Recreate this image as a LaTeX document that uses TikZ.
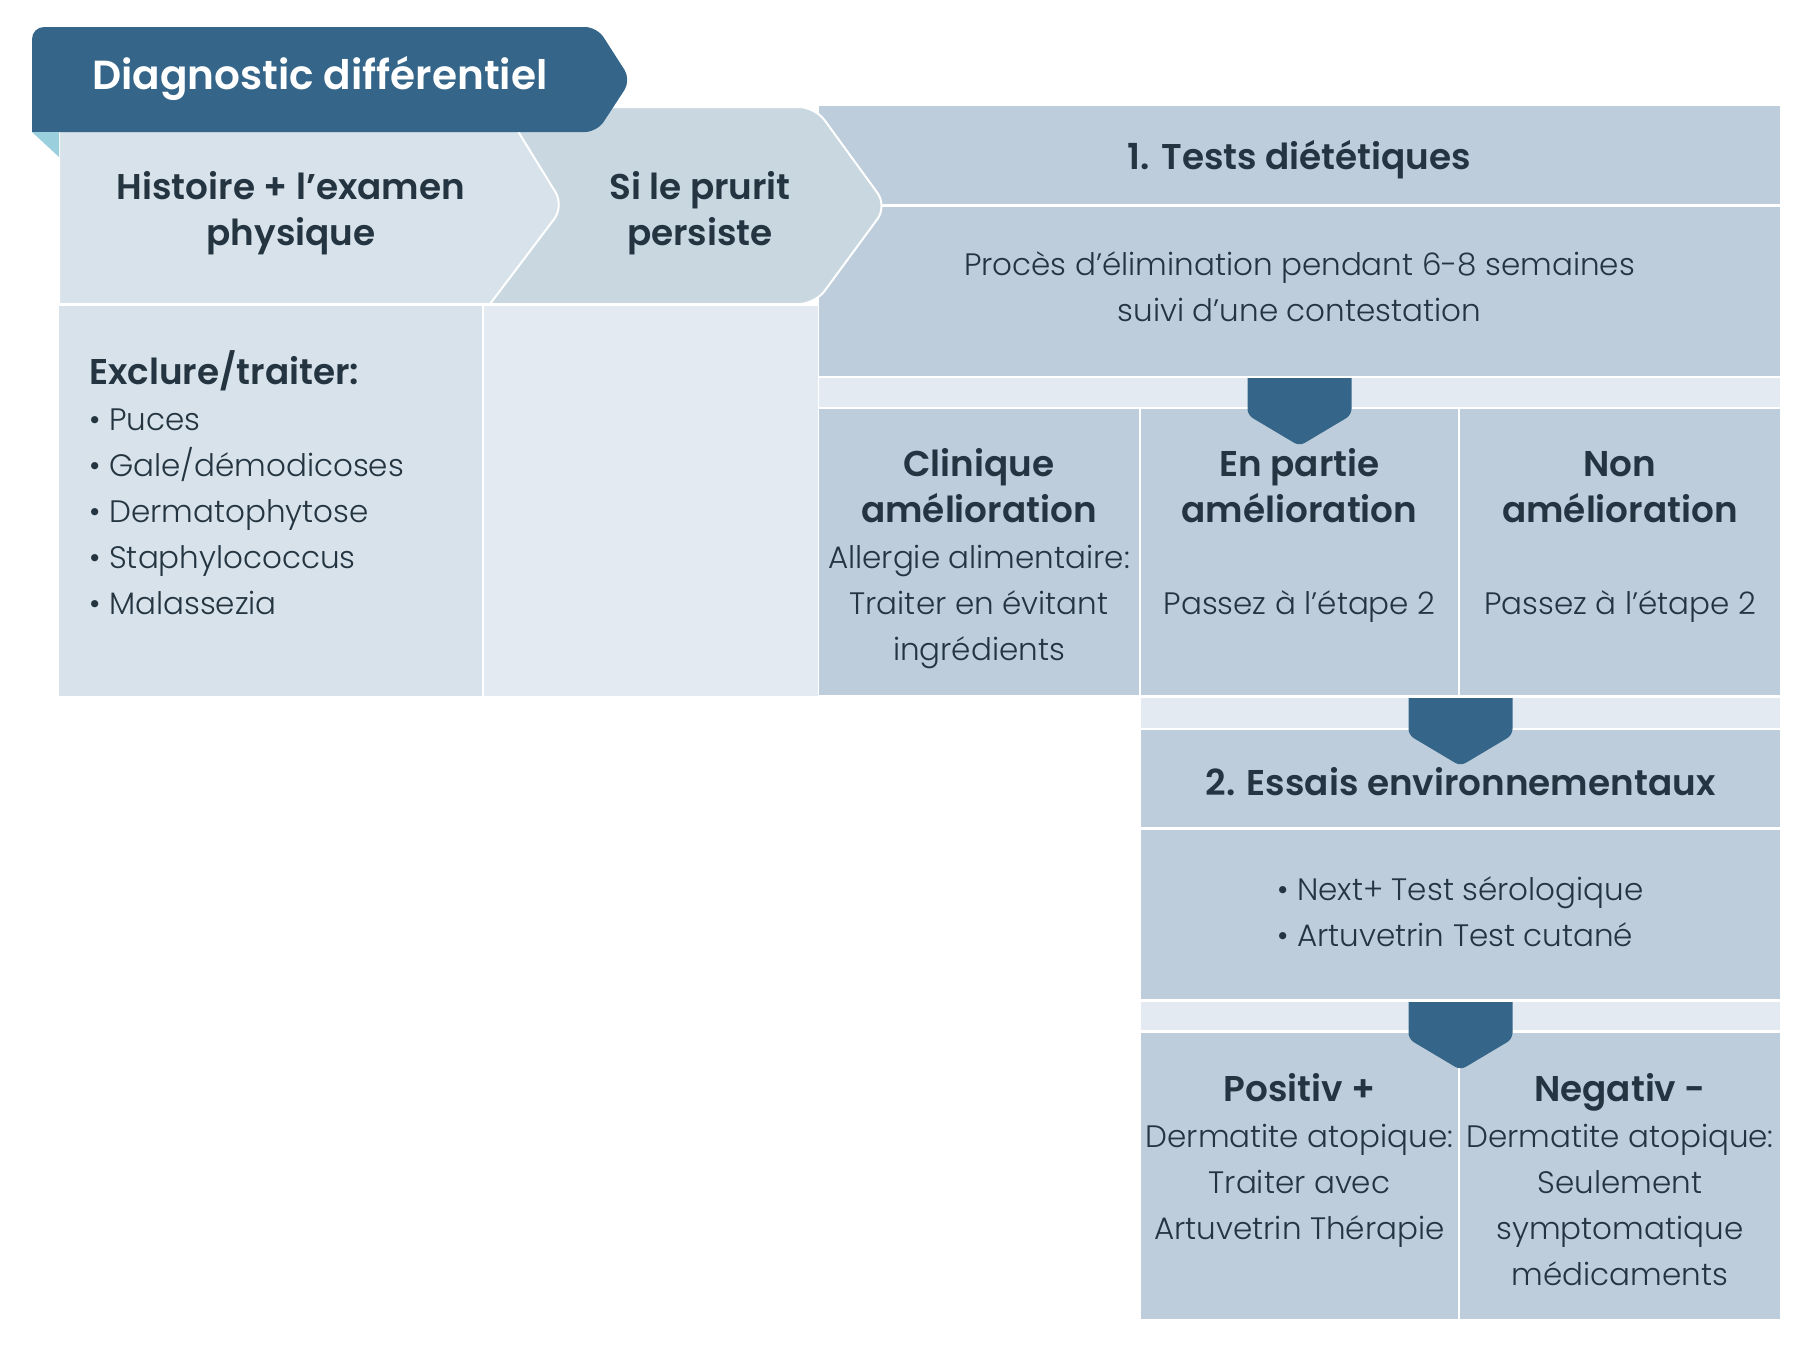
\documentclass[tikz,border=0pt]{standalone}
\usepackage{fontspec}
\setmainfont{Poppins}[UprightFont={* Light}, BoldFont={* SemiBold}]
\usetikzlibrary{positioning}

\definecolor{titreBleu}{HTML}{35668A}
\definecolor{pliCyan}{HTML}{9ACFDD}
\definecolor{fondClair}{HTML}{D7E2EA}
\definecolor{fondSi}{HTML}{C9D7E1}
\definecolor{fondPale}{HTML}{E4EAF1}
\definecolor{fondTest}{HTML}{BDCDDB}
\definecolor{texteFonce}{HTML}{243541}

\newcommand{\corps}{\fontsize{15.5pt}{23pt}\selectfont}
\newcommand{\entete}{\fontsize{17.9pt}{23pt}\selectfont\bfseries}
\newcommand{\titrefont}{\fontsize{20.3pt}{25pt}\selectfont\bfseries}

\begin{document}
\begin{tikzpicture}[x=0.5pt,y=-0.5pt,
    boite/.style={rectangle,inner sep=0pt,outer sep=0pt,anchor=north west,align=center,text=texteFonce,font=\corps},
    texte/.style={inner sep=0pt,align=center,text=texteFonce,font=\corps},
    fleche/.pic={\fill[titreBleu] (-52,0) [rounded corners=3pt] -- (-52,37) -- (0,68) -- (52,37) [sharp corners] -- (52,0) -- cycle;}]
  \useasboundingbox (0,0) rectangle (1812,1350);

  % 列
  \node[boite,fill=fondClair,minimum width=211.5pt,minimum height=195pt] (colA) at (59,306) {};
  \node[boite,fill=fondPale,minimum width=167pt,minimum height=195pt,right=1pt of colA] (colB) {};

  % 1. 食事
  \node[boite,fill=fondTest,minimum width=480.5pt,minimum height=49pt,font=\entete,text height=14.9pt,text depth=0pt] (tests) at (819,106) {1. Tests diététiques};
  \node[boite,fill=fondTest,minimum width=480.5pt,minimum height=84.5pt,below=1.5pt of tests,text depth=4.6pt] (desc) {Procès d’élimination pendant 6-8 semaines\\suivi d’une contestation};
  \node[boite,fill=fondPale,minimum width=480.5pt,minimum height=14.5pt,below=1pt of desc] (bande1) {};
  \node[boite,fill=fondTest,minimum width=160pt,minimum height=143pt,below=1pt of bande1.south west,anchor=north west,text height=108pt,text depth=0pt] (res1) {{\entete Clinique}\\{\entete amélioration}\\Allergie alimentaire:\\Traiter en évitant\\ingrédients};
  \node[boite,fill=fondTest,minimum width=158.5pt,minimum height=143pt,right=1pt of res1,text height=108pt,text depth=0pt] (res2) {{\entete En partie}\\{\entete amélioration}\\ \\Passez à l’étape 2\\ };
  \node[boite,fill=fondTest,minimum width=160pt,minimum height=143pt,right=1pt of res2,text height=108pt,text depth=0pt] (res3) {{\entete Non}\\{\entete amélioration}\\ \\Passez à l’étape 2\\ };

  % 2. 環境
  \node[boite,fill=fondPale,minimum width=319.5pt,minimum height=15pt,below=1.5pt of res2.south west,anchor=north west] (bande2) {};
  \node[boite,fill=fondTest,minimum width=319.5pt,minimum height=48.5pt,below=1pt of bande2,font=\entete,text height=16.5pt,text depth=0pt] (essais) {2. Essais environnementaux};
  \node[boite,fill=fondTest,minimum width=319.5pt,minimum height=84.5pt,below=1.5pt of essais,align=left,text depth=3.4pt] (essaisDesc) {• Next+ Test sérologique\\• Artuvetrin Test cutané};
  \node[boite,fill=fondPale,minimum width=319.5pt,minimum height=14pt,below=1.5pt of essaisDesc] (bande3) {};
  \node[boite,fill=fondTest,minimum width=158.5pt,minimum height=143pt,below=1.5pt of bande3.south west,anchor=north west,text height=109.3pt,text depth=0pt] (fin1) {{\entete Positiv +}\\Dermatite atopique:\\Traiter avec\\Artuvetrin Thérapie\\ };
  \node[boite,fill=fondTest,minimum width=160pt,minimum height=143pt,right=1pt of fin1,text height=109.3pt,text depth=0pt] (fin2) {{\entete Negativ -}\\Dermatite atopique:\\Seulement\\symptomatique\\médicaments};

  % 矢羽
  \filldraw[fill=fondSi,draw=white,line width=1pt] (470,107) [rounded corners=8pt] -- (815,107) -- (887,206) -- (815,304) [sharp corners] -- (470,304) -- cycle;
  \filldraw[fill=fondClair,draw=white,line width=1pt] (59,128) -- (516,128) [rounded corners=8pt] -- (564,206) [sharp corners] -- (490,304) -- (59,304) -- cycle;

  % 見出し
  \fill[titreBleu] (32,132) -- (32,40) [rounded corners=6pt] -- (32,27) -- (597,27) -- (631,80) -- (597,132) [sharp corners] -- cycle;
  \fill[pliCyan] (32,132) -- (59,132) -- (59,157) -- cycle;
  \node[anchor=base west,inner sep=0pt,text=white,font=\titrefont] (titre) at (92,89) {Diagnostic différentiel};

  % 矢印
  \pic at (bande1.north) {fleche};
  \pic at (bande2.north) {fleche};
  \pic at (bande3.north) {fleche};

  % 文字
  \node[texte,font=\entete] (histoire) at (291,213) {Histoire + l’examen\\physique};
  \node[texte,font=\entete] (prurit) at (700,213) {Si le prurit\\persiste};
  \node[texte,anchor=north west,align=left] (exclure) at (89,350) {{\entete Exclure/traiter:}\\• Puces\\• Gale/démodicoses\\• Dermatophytose\\• Staphylococcus\\• Malassezia};
\end{tikzpicture}
\end{document}
